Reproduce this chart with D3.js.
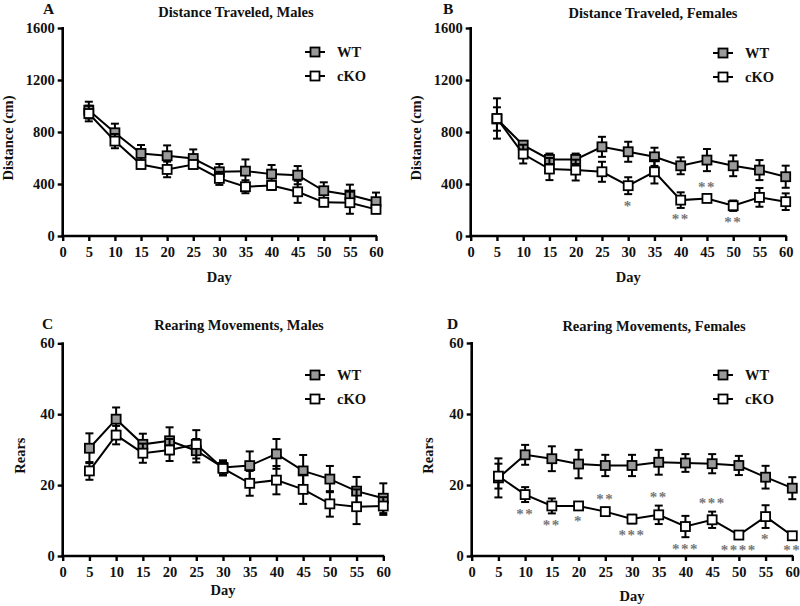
<!DOCTYPE html>
<html>
<head>
<meta charset="utf-8">
<script src="https://cdn.jsdelivr.net/npm/d3@7"></script>
<style>
  html, body { margin: 0; padding: 0; background: #fff; }
  svg { display: block; }
  text { font-family: "Liberation Serif", "Times New Roman", serif; font-weight: bold; fill: #111; }
</style>
</head>
<body>
<svg id="chart" width="800" height="606"></svg>
<script>
// ---------------- DATA ----------------
const days = [5, 10, 15, 20, 25, 30, 35, 40, 45, 50, 55, 60];
const dayTicks = [0, 5, 10, 15, 20, 25, 30, 35, 40, 45, 50, 55, 60];
const distTicks = [0, 400, 800, 1200, 1600];
const rearTicks = [0, 20, 40, 60];
const seriesNames = ["WT", "cKO"];

const distMaleWT     = [968, 794, 635, 617, 596, 494, 499, 476, 468, 348, 315, 264];
const distMaleWTsem  = [65, 70, 65, 80, 70, 60, 90, 70, 70, 65, 80, 70];
const distMaleKO     = [942, 730, 550, 512, 550, 443, 379, 389, 340, 259, 256, 205];
const distMaleKOsem  = [60, 55, 30, 60, 30, 50, 50, 35, 85, 30, 85, 30];

const distFemaleWT    = [900, 699, 589, 589, 686, 648, 609, 540, 584, 540, 507, 456];
const distFemaleWTsem = [90, 25, 45, 45, 77, 77, 70, 65, 85, 80, 77, 85];
const distFemaleKO    = [904, 630, 515, 507, 494, 387, 494, 276, 289, 233, 297, 264];
const distFemaleKOsem = [155, 72, 85, 80, 77, 65, 90, 60, 20, 40, 72, 64];

const rearMaleWT    = [30.4, 38.6, 31.5, 32.5, 29.7, 25.0, 25.5, 28.8, 24.0, 21.7, 18.3, 16.3];
const rearMaleWTsem = [4.2, 3.3, 3.0, 3.8, 3.3, 2.0, 4.0, 4.2, 4.5, 3.7, 4.0, 4.2];
const rearMaleKO    = [24.0, 34.1, 29.0, 29.9, 31.5, 24.7, 20.5, 21.4, 18.8, 14.7, 13.9, 14.1];
const rearMaleKOsem = [2.5, 2.6, 2.7, 3.1, 4.0, 2.0, 3.5, 4.0, 4.1, 3.6, 4.9, 2.5];

const rearFemaleWT    = [22.0, 28.5, 27.4, 25.9, 25.5, 25.5, 26.4, 26.2, 26.0, 25.5, 22.2, 19.1];
const rearFemaleWTsem = [5.5, 2.8, 3.5, 4.0, 3.0, 3.0, 3.5, 2.5, 2.7, 2.7, 3.2, 3.1];
const rearFemaleKO    = [22.5, 17.3, 14.1, 14.1, 12.5, 10.4, 11.6, 8.3, 10.2, 5.9, 11.1, 5.7];
const rearFemaleKOsem = [3.5, 2.1, 2.1, 1.0, 1.1, 1.2, 2.6, 3.0, 2.3, 1.0, 3.2, 0.8];

const sigDistFemaleDays   = [30, 40, 45, 50];
const sigDistFemaleLabels = ["*", "**", "**", "**"];
const sigDistFemaleSide   = ["below", "below", "above", "below"];

const sigRearFemaleDays   = [10, 15, 20, 25, 30, 35, 40, 45, 50, 55, 60];
const sigRearFemaleLabels = ["**", "**", "*", "**", "***", "**", "***", "***", "****", "*", "**"];
const sigRearFemaleSide   = ["below", "below", "below", "above", "below", "above", "below", "above", "below", "below", "below"];

// ---------------- LAYOUT ----------------
const panels = [
  { letter: "A", title: "Distance Traveled, Males", yLabel: "Distance (cm)", yMax: 1600, yTicks: distTicks,
    wt: distMaleWT, wtE: distMaleWTsem, ko: distMaleKO, koE: distMaleKOsem, sig: null,
    x0: 62.7, x1: 376, yTop: 28, yBot: 236, letterX: 43, letterY: 14, titleX: 236, titleY: 17,
    yLabX: 8, dayY: 282, legX: 315, legY: 52 },
  { letter: "B", title: "Distance Traveled, Females", yLabel: "Distance (cm)", yMax: 1600, yTicks: distTicks,
    wt: distFemaleWT, wtE: distFemaleWTsem, ko: distFemaleKO, koE: distFemaleKOsem,
    sig: { days: sigDistFemaleDays, labels: sigDistFemaleLabels, side: sigDistFemaleSide },
    x0: 470.7, x1: 785.7, yTop: 28, yBot: 236, letterX: 443, letterY: 14, titleX: 653, titleY: 18,
    yLabX: 416, dayY: 282, legX: 723, legY: 53 },
  { letter: "C", title: "Rearing Movements, Males", yLabel: "Rears", yMax: 60, yTicks: rearTicks,
    wt: rearMaleWT, wtE: rearMaleWTsem, ko: rearMaleKO, koE: rearMaleKOsem, sig: null,
    x0: 62.7, x1: 383.3, yTop: 343.3, yBot: 556, letterX: 42, letterY: 329, titleX: 239, titleY: 330,
    yLabX: 20, dayY: 595, legX: 315, legY: 375 },
  { letter: "D", title: "Rearing Movements, Females", yLabel: "Rears", yMax: 60, yTicks: rearTicks,
    wt: rearFemaleWT, wtE: rearFemaleWTsem, ko: rearFemaleKO, koE: rearFemaleKOsem,
    sig: { days: sigRearFemaleDays, labels: sigRearFemaleLabels, side: sigRearFemaleSide },
    x0: 471.7, x1: 792.3, yTop: 343, yBot: 556, letterX: 447, letterY: 329, titleX: 654, titleY: 331,
    yLabX: 428, dayY: 601, legX: 723, legY: 375 }
];

const svg = d3.select("#chart");
const WT_FILL = "#9a9a9a";
const MS = 9;      // marker size
const CAP = 4;     // half cap width

function drawSeries(g, x, y, vals, errs, fill) {
  const pts = days.map((d, i) => ({ d, v: vals[i], e: errs[i] }));
  g.append("path")
    .datum(pts)
    .attr("fill", "none").attr("stroke", "#000").attr("stroke-width", 2)
    .attr("d", d3.line().x(p => x(p.d)).y(p => y(p.v)));
  const eb = g.append("g").attr("stroke", "#000").attr("stroke-width", 2);
  pts.forEach(p => {
    const cx = x(p.d), yt = y(p.v + p.e), yb = y(p.v - p.e);
    eb.append("line").attr("x1", cx).attr("x2", cx).attr("y1", yt).attr("y2", yb);
    eb.append("line").attr("x1", cx - CAP).attr("x2", cx + CAP).attr("y1", yt).attr("y2", yt);
    eb.append("line").attr("x1", cx - CAP).attr("x2", cx + CAP).attr("y1", yb).attr("y2", yb);
  });
  g.append("g").selectAll("rect").data(pts).join("rect")
    .attr("x", p => x(p.d) - MS / 2).attr("y", p => y(p.v) - MS / 2)
    .attr("width", MS).attr("height", MS)
    .attr("fill", fill).attr("stroke", "#000").attr("stroke-width", 1.8);
}

panels.forEach(P => {
  const g = svg.append("g");
  const x = d3.scaleLinear().domain([0, 60]).range([P.x0, P.x1]);
  const y = d3.scaleLinear().domain([0, P.yMax]).range([P.yBot, P.yTop]);

  const xa = g.append("g").attr("transform", `translate(0,${P.yBot})`)
    .call(d3.axisBottom(x).tickValues(dayTicks).tickFormat(d3.format("d"))
      .tickSize(5).tickSizeOuter(0).tickPadding(6));
  const ya = g.append("g").attr("transform", `translate(${P.x0},0)`)
    .call(d3.axisLeft(y).tickValues(P.yTicks).tickFormat(d3.format("d"))
      .tickSize(5).tickSizeOuter(0).tickPadding(3));
  [xa, ya].forEach(a => {
    a.attr("font-family", null).attr("font-size", null);
    a.select(".domain").attr("stroke", "#000").attr("stroke-width", 2.6);
    a.selectAll(".tick line").attr("stroke", "#000").attr("stroke-width", 2.4);
    a.selectAll(".tick text").attr("font-size", 14.5).attr("fill", "#111");
  });
  xa.select(".domain").attr("d", `M${P.x0 - 1.3},0H${P.x1 + 1}`);
  ya.select(".domain").attr("d", `M0,${P.yBot + 1.3}V${P.yTop - 1}`);

  g.append("text").attr("x", P.letterX).attr("y", P.letterY).attr("font-size", 15.5).text(P.letter);
  g.append("text").attr("x", P.titleX).attr("y", P.titleY).attr("text-anchor", "middle")
    .attr("font-size", 14.5).text(P.title);
  g.append("text").attr("transform", `translate(${P.yLabX},${(P.yTop + P.yBot) / 2 + 6}) rotate(-90)`)
    .attr("text-anchor", "middle").attr("dy", "0.35em").attr("font-size", 14.5).text(P.yLabel);
  g.append("text").attr("x", (P.x0 + P.x1) / 2).attr("y", P.dayY).attr("text-anchor", "middle")
    .attr("font-size", 14.5).text("Day");

  drawSeries(g, x, y, P.wt, P.wtE, WT_FILL);
  drawSeries(g, x, y, P.ko, P.koE, "#fff");

  if (P.sig) {
    P.sig.days.forEach((d, i) => {
      const idx = days.indexOf(d);
      const v = P.ko[idx], e = P.koE[idx];
      const above = P.sig.side[i] === "above";
      const cy = above ? y(v + e) - 10 : y(v - e) + 10;
      g.append("text").attr("x", x(d)).attr("y", cy + 6.5).attr("text-anchor", "middle")
        .attr("font-size", 15).attr("font-weight", "normal").attr("letter-spacing", 1.5)
        .style("fill", "#777").text(P.sig.labels[i]);
    });
  }

  seriesNames.forEach((name, i) => {
    const ly = P.legY + i * 24;
    const lg = g.append("g");
    lg.append("line").attr("x1", P.legX - 10).attr("x2", P.legX + 10).attr("y1", ly).attr("y2", ly)
      .attr("stroke", "#000").attr("stroke-width", 2);
    lg.append("rect").attr("x", P.legX - 4.5).attr("y", ly - 4.5).attr("width", 9).attr("height", 9)
      .attr("fill", i === 0 ? WT_FILL : "#fff").attr("stroke", "#000").attr("stroke-width", 1.8);
    lg.append("text").attr("x", P.legX + 22).attr("y", ly).attr("dy", "0.35em")
      .attr("font-size", 14.5).text(name);
  });
});
</script>
</body>
</html>
